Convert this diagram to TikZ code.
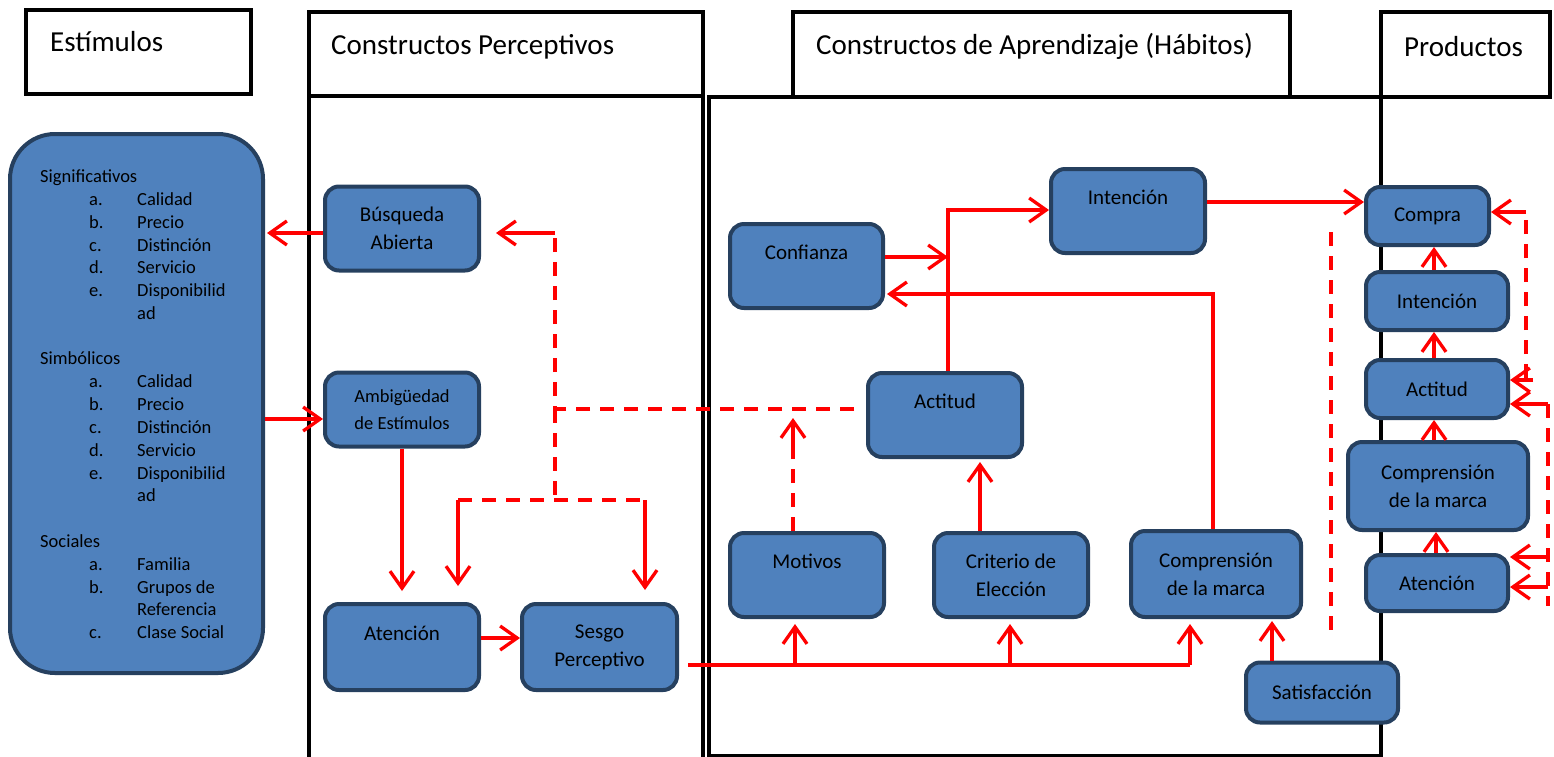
\documentclass[tikz,border=0pt]{standalone}
\usepackage{fontspec}
\setmainfont{Carlito}
\usetikzlibrary{arrows.meta}
\definecolor{boxfill}{HTML}{4F81BD}
\definecolor{boxline}{HTML}{26405F}
\definecolor{arrred}{HTML}{FF0000}
\tikzset{
 bx/.style={draw=boxline, fill=boxfill, line width=4pt, rounded corners=14pt, inner sep=0pt, align=center, font=\fontsize{21}{28}\selectfont},
 frame/.style={draw=black, line width=4.5pt},
 hdr/.style={font=\fontsize{29}{34}\selectfont, anchor=base west, inner sep=0pt},
 con/.style={draw=arrred, line width=3.3pt},
 arr/.style={con, -{Straight Barb[length=17pt,width=24pt]}},
 dsh/.style={con, dash pattern=on 14pt off 10pt},
 lst/.style={font=\fontsize{18.5}{22}\selectfont, anchor=base west, inner sep=0pt},
}
\begin{document}
\begin{tikzpicture}[x=1pt,y=-1pt]
\useasboundingbox (0,0) rectangle (1554,756);
% frames
\draw[frame] (26,10) rectangle (251,94);
\draw[frame] (309,12) rectangle (703,96);
\draw[frame] (309,96) rectangle (703,775);
\draw[frame] (709,97) rectangle (1381,756);
\draw[frame] (793,12) rectangle (1290,97);
\draw[frame] (1381,12) rectangle (1550,97);
\node[hdr] (tStim) at (50,51) {Estímulos};
\node[hdr] (tPerc) at (331,54) {Constructos Perceptivos};
\node[hdr] (tApr) at (816,54) {Constructos de Aprendizaje (Hábitos)};
\node[hdr] (tProd) at (1404,56) {Productos};
% stimulus box
\node[bx, rounded corners=45pt, minimum width=253, minimum height=539] (stim) at (136.5,403.5) {};
\foreach \t/\y [count=\i] in {Significativos/176, Simbólicos/358, Sociales/541}
  \node[lst] (g\i) at (40,\y+6) {\t};
\foreach \t/\y [count=\i] in {a./199, b./222, c./245, d./267, e./290, a./381, b./404, c./427, d./450, e./473, a./564, b./587, c./632}
  \node[lst] (l\i) at (89,\y+6) {\t};
\foreach \t/\y [count=\i] in {Calidad/199, Precio/222, Distinción/245, Servicio/267, Disponibilid/290, ad/313, Calidad/381, Precio/404, Distinción/427, Servicio/450, Disponibilid/473, ad/495, Familia/564, Grupos de/587, Referencia/609, Clase Social/632}
  \node[lst] (i\i) at (137,\y+6) {\t};
% perceptual nodes
\node[bx, minimum width=154, minimum height=84] (busq) at (402,228.5) {Búsqueda\\Abierta};
\node[bx, minimum width=154, minimum height=74, font=\fontsize{18.5}{27}\selectfont] (ambig) at (402,409.5) {Ambigüedad\\de Estímulos};
\node[bx, minimum width=154, minimum height=86] (atenP) at (402,647) {Atención\\\mbox{}};
\node[bx, minimum width=155, minimum height=86] (sesgo) at (599.5,647) {Sesgo\\Perceptivo};
% learning nodes
\node[bx, minimum width=153, minimum height=84] (conf) at (806.5,266) {Confianza\\\mbox{}};
\node[bx, minimum width=154, minimum height=84] (intA) at (1128,211) {Intención\\\mbox{}};
\node[bx, minimum width=154, minimum height=84] (actA) at (945,415) {Actitud\\\mbox{}};
\node[bx, minimum width=154, minimum height=84] (motiv) at (807,575) {Motivos\\\mbox{}};
\node[bx, minimum width=154, minimum height=84] (crit) at (1011,575) {Criterio de\\Elección};
\node[bx, minimum width=170, minimum height=86] (compA) at (1216,574) {Comprensión\\de la marca};
\node[bx, minimum width=152, minimum height=60] (satis) at (1322,692.5) {Satisfacción};
% product nodes
\node[bx, minimum width=123, minimum height=58] (compra) at (1427.5,216) {Compra};
\node[bx, minimum width=142, minimum height=58] (intP) at (1437,301) {Intención};
\node[bx, minimum width=142, minimum height=58] (actP) at (1437,389) {Actitud};
\node[bx, minimum width=180, minimum height=88] (compP) at (1438,486) {Comprensión\\de la marca};
\node[bx, minimum width=142, minimum height=56] (atenR) at (1437,583) {Atención};
% connectors
\draw[arr, shorten >=2] (busq.west |- 0,233) -- (stim.east |- 0,233);
\draw[arr] (stim.east |- 0,419) -- (ambig.west |- 0,419);
\draw[arr, shorten >=11] (ambig.south) -- (atenP.north);
\coordinate (jA) at (555,409);
\coordinate (jB) at (555,233);
\coordinate (jC) at (555,500);
\coordinate (jL) at (458,500);
\coordinate (jR) at (645,500);
\draw[dsh, shorten <=12] (jA -| actA.west) -- (jA) -- (jB);
\draw[arr, shorten >=15] (jB) -- (jB -| busq.east);
\draw[dsh] (jA) -- (jC);
\draw[dsh] (jL) -- (jR);
\draw[arr, shorten >=16] (jL) -- (jL |- atenP.north);
\draw[arr, shorten >=12] (jR) -- (jR |- sesgo.north);
\coordinate (mA) at (793,418);
\coordinate (mB) at (793,445);
\draw[dsh] (mA |- motiv.north) -- (mB);
\draw[arr] (mB) -- (mA);
\draw[arr] (atenP.east |- 0,638) -- (sesgo.west |- 0,638);
\coordinate (b1) at (795,665);
\coordinate (b2) at (1010,665);
\coordinate (b3) at (1190,665);
\draw[con, shorten <=9] (sesgo.east |- b1) -- (b3);
\draw[arr, shorten >=5] (b1) -- (b1 |- motiv.south);
\draw[arr, shorten >=5] (b2) -- (b2 |- crit.south);
\draw[arr, shorten >=5] (b3) -- (b3 |- compA.south);
\draw[arr, shorten >=2] (1272,0 |- satis.north) -- (1272,0 |- compA.south);
\draw[arr, shorten >=3] (980,0 |- crit.north) -- (980,0 |- actA.south);
\coordinate (aT) at (948,210);
\draw[arr] (aT |- actA.north) -- (aT) -- (intA.west |- aT);
\draw[arr] (conf.east |- 0,257) -- (aT |- 0,257);
\coordinate (cT) at (1213,294);
\draw[arr, shorten >=2] (cT |- compA.north) -- (cT) -- (conf.east |- cT);
\draw[arr] (intA.east |- 0,202) -- (compra.west |- 0,202);
\coordinate (d1) at (1331,232);
\coordinate (d2) at (1331,630);
\draw[dsh] (d1) -- (d2);
\draw[arr] (1434,0 |- intP.north) -- (1434,0 |- compra.south);
\draw[arr] (1434,0 |- actP.north) -- (1434,0 |- intP.south);
\draw[arr] (1434,0 |- compP.north) -- (1434,0 |- actP.south);
\draw[arr] (1436,0 |- atenR.north) -- (1436,0 |- compP.south);
\coordinate (r1) at (1526,212);
\coordinate (r2) at (1526,378);
\coordinate (r3) at (1533,380);
\draw[dsh] (r2) -- (r1);
\draw[arr] (r1) -- (r1 -| compra.east);
\draw[arr] (r3) -- (r3 -| actP.east);
\coordinate (q1) at (1548,404);
\coordinate (q2) at (1548,606);
\coordinate (q3) at (1548,557);
\coordinate (q4) at (1548,587);
\draw[dsh] (q1) -- (q2);
\draw[arr] (q1) -- (q1 -| actP.east);
\draw[arr] (q3) -- (q3 -| atenR.east);
\draw[arr] (q4) -- (q4 -| atenR.east);
\end{tikzpicture}
\end{document}
